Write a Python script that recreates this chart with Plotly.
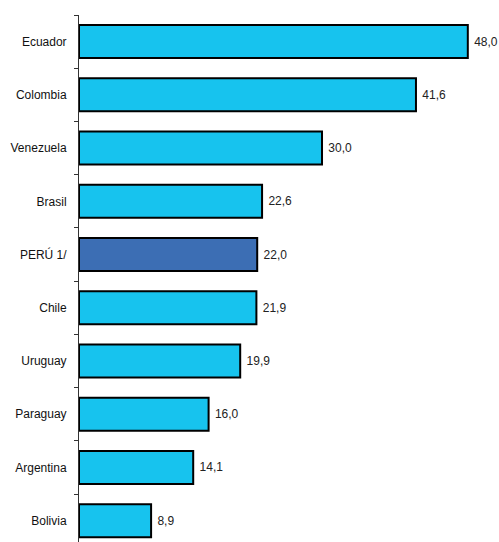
import plotly.graph_objects as go

countries = ["Ecuador", "Colombia", "Venezuela", "Brasil", "PERÚ 1/", "Chile",
             "Uruguay", "Paraguay", "Argentina", "Bolivia"]
values = [48.0, 41.6, 30.0, 22.6, 22.0, 21.9, 19.9, 16.0, 14.1, 8.9]
highlight = "PERÚ 1/"

colors = ["#3C6EB4" if c == highlight else "#17C3EE" for c in countries]
labels = [" " + f"{v:.1f}".replace(".", ",") for v in values]

fig = go.Figure(go.Bar(
    x=values, y=countries, orientation="h",
    marker=dict(color=colors, line=dict(color="#000000", width=2)),
    width=0.62,
    text=labels, textposition="outside", cliponaxis=False,
    textfont=dict(family="Liberation Sans, Arial", size=12, color="#222222"),
))

fig.update_layout(
    width=499, height=542,
    margin=dict(l=79, r=0, t=15, b=0),
    plot_bgcolor="white", paper_bgcolor="white",
    showlegend=False,
    xaxis=dict(range=[0, 51.85], visible=False),
    yaxis=dict(
        type="category", categoryorder="array", categoryarray=countries,
        range=[9.4, -0.5],
        showline=True, linecolor="#333333", linewidth=1,
        ticks="outside", tickson="boundaries", ticklen=4, tickcolor="#333333",
        ticklabelstandoff=9,
        tickfont=dict(family="Liberation Sans, Arial", size=12, color="#111111"),
        showgrid=False, zeroline=False,
    ),
)

fig.write_html("out.html")
